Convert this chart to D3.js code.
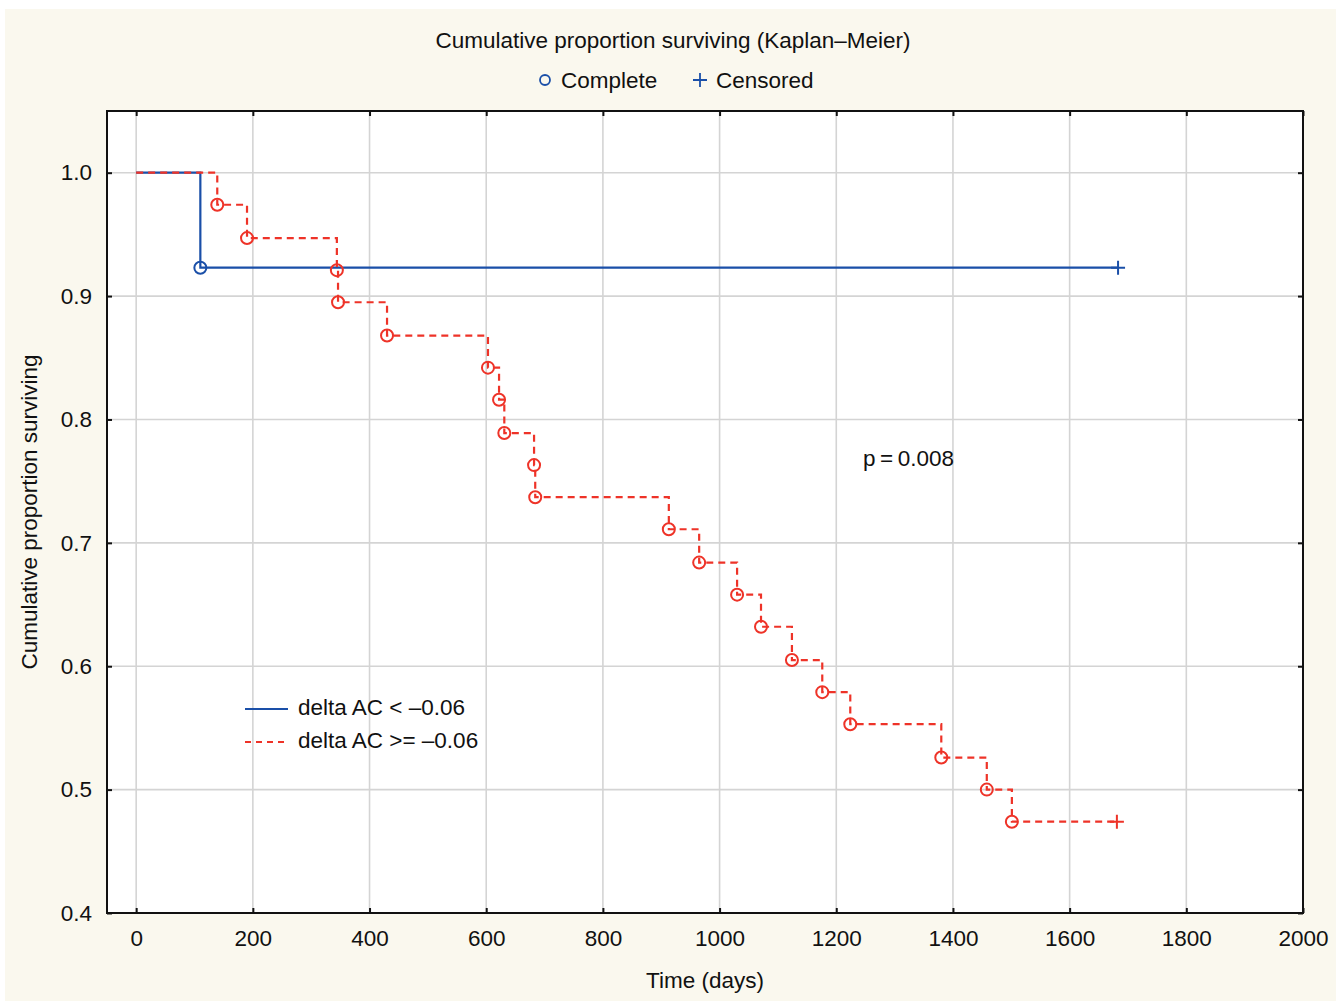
<!DOCTYPE html>
<html><head><meta charset="utf-8">
<script src="https://cdn.jsdelivr.net/npm/d3@7"></script>
<style>body{margin:0;background:#fff;} text{font-family:"Liberation Sans",Arial,sans-serif;fill:#111;}</style>
</head><body>
<svg id="c" width="1341" height="1001"></svg>
<script>
const xTicks = [0,200,400,600,800,1000,1200,1400,1600,1800,2000];
const yTicks = [0.4,0.5,0.6,0.7,0.8,0.9,1.0];
const blueTimes = [0, 110, 1683];
const blueSurv  = [1.0, 0.923, 0.923];
const blueEvents = [110];
const blueEventSurv = [0.923];
const blueCensTime = [1683];
const blueCensSurv = [0.923];
const redTimes = [0,139,190,344,346,430,603,622,631,682,684,913,965,1030,1071,1124,1176,1224,1380,1458,1501,1681];
const redSurv  = [1.0,0.974,0.947,0.921,0.895,0.868,0.842,0.816,0.789,0.763,0.737,0.711,0.684,0.658,0.632,0.605,0.579,0.553,0.526,0.500,0.474,0.474];
const redCensTime = [1681];
const redCensSurv = [0.474];
const seriesNames = ["delta AC < \u20130.06","delta AC >= \u20130.06"];

const FS = "22.5px";
const blue = "#1a4fa8", red = "#ee3328";
const svg = d3.select("#c");
svg.append("rect").attr("x",5).attr("y",9).attr("width",1331).attr("height",992).attr("fill","#faf8ee");

const L=107,T=111,R=1303,B=913;
const x = d3.scaleLinear().domain([-50,2000]).range([L,R]);
const y = d3.scaleLinear().domain([0.4,1.05]).range([B,T]);

svg.append("rect").attr("x",L).attr("y",T).attr("width",R-L).attr("height",B-T).attr("fill","#fff");
// grid
const g = svg.append("g");
g.selectAll(".gx").data(xTicks).join("line").attr("x1",d=>x(d)).attr("x2",d=>x(d)).attr("y1",T).attr("y2",B).attr("stroke","#d4d4d4").attr("stroke-width",1.6);
g.selectAll(".gy").data(yTicks).join("line").attr("y1",d=>y(d)).attr("y2",d=>y(d)).attr("x1",L).attr("x2",R).attr("stroke","#d4d4d4").attr("stroke-width",1.6);

// axes
const axB = d3.axisBottom(x).tickValues(xTicks).tickSize(-5).tickPadding(17).tickFormat(d3.format("d"));
const axT = d3.axisTop(x).tickValues(xTicks).tickSize(-5).tickFormat("");
const axL = d3.axisLeft(y).tickValues(yTicks).tickSize(-5).tickPadding(15).tickFormat(d3.format(".1f"));
const axR = d3.axisRight(y).tickValues(yTicks).tickSize(-5).tickFormat("");
function style(sel){sel.select(".domain").remove();sel.selectAll(".tick line").attr("stroke","#111").attr("stroke-width",2);sel.selectAll("text").style("font-size",FS).attr("fill","#111");}
svg.append("g").attr("transform",`translate(0,${B})`).call(axB).call(style);
svg.append("g").attr("transform",`translate(0,${T})`).call(axT).call(style);
svg.append("g").attr("transform",`translate(${L},0)`).call(axL).call(style);
svg.append("g").attr("transform",`translate(${R},0)`).call(axR).call(style);
svg.append("rect").attr("x",L).attr("y",T).attr("width",R-L).attr("height",B-T).attr("fill","none").attr("stroke","#111").attr("stroke-width",2);

// lines
const line = d3.line().x(d=>x(d[0])).y(d=>y(d[1])).curve(d3.curveStepAfter);
svg.append("path").attr("d",line(blueTimes.map((t,i)=>[t,blueSurv[i]]))).attr("fill","none").attr("stroke",blue).attr("stroke-width",2.2);
svg.append("path").attr("d",line(redTimes.map((t,i)=>[t,redSurv[i]]))).attr("fill","none").attr("stroke",red).attr("stroke-width",2.2).attr("stroke-dasharray","7,5");

// event markers
const redEv = redTimes.slice(1,-1).map((t,i)=>[t,redSurv[i+1]]);
svg.selectAll(".re").data(redEv).join("circle").attr("cx",d=>x(d[0])).attr("cy",d=>y(d[1])).attr("r",6).attr("fill","none").attr("stroke",red).attr("stroke-width",2);
svg.selectAll(".be").data(blueEvents.map((t,i)=>[t,blueEventSurv[i]])).join("circle").attr("cx",d=>x(d[0])).attr("cy",d=>y(d[1])).attr("r",6).attr("fill","none").attr("stroke",blue).attr("stroke-width",2);
function plus(cx,cy,col){svg.append("path").attr("d",`M${cx-7},${cy}H${cx+7}M${cx},${cy-7}V${cy+7}`).attr("stroke",col).attr("stroke-width",2);}
blueCensTime.forEach((t,i)=>plus(x(t),y(blueCensSurv[i]),blue));
redCensTime.forEach((t,i)=>plus(x(t),y(redCensSurv[i]),red));

// titles
svg.append("text").attr("x",673).attr("y",48).attr("text-anchor","middle").style("font-size",FS).text("Cumulative proportion surviving (Kaplan\u2013Meier)");
svg.append("circle").attr("cx",545).attr("cy",80).attr("r",5).attr("fill","none").attr("stroke",blue).attr("stroke-width",1.8);
svg.append("text").attr("x",561).attr("y",88).style("font-size",FS).text("Complete");
svg.append("path").attr("d","M693,80H707M700,73V87").attr("stroke",blue).attr("stroke-width",1.8);
svg.append("text").attr("x",716).attr("y",88).style("font-size",FS).text("Censored");

svg.append("text").attr("x",705).attr("y",988).attr("text-anchor","middle").style("font-size",FS).text("Time (days)");
svg.append("text").attr("transform","translate(37,512) rotate(-90)").attr("text-anchor","middle").style("font-size",FS).text("Cumulative proportion surviving");
svg.append("text").attr("x",863).attr("y",466).style("font-size",FS).text("p\u2009=\u20090.008");

// inner legend
svg.append("line").attr("x1",245).attr("x2",288).attr("y1",709).attr("y2",709).attr("stroke",blue).attr("stroke-width",2.2);
svg.append("line").attr("x1",245).attr("x2",288).attr("y1",742).attr("y2",742).attr("stroke",red).attr("stroke-width",2.2).attr("stroke-dasharray","6,5");
svg.append("text").attr("x",298).attr("y",715).style("font-size",FS).text(seriesNames[0]);
svg.append("text").attr("x",298).attr("y",748).style("font-size",FS).text(seriesNames[1]);
</script>
</body></html>
